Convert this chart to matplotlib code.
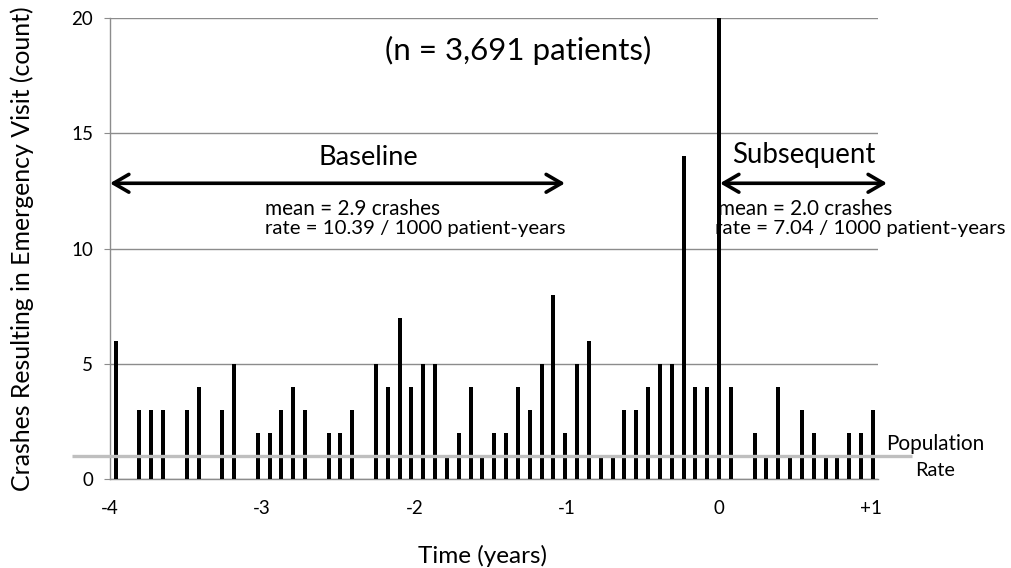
import matplotlib
matplotlib.use("Agg")
import matplotlib.pyplot as plt

# ---------------- data ----------------
crash_counts = [6, 0, 3, 3, 3, 0, 3, 4, 0, 3, 5, 0, 2, 2, 3, 4, 3, 0, 2, 2,
                3, 0, 5, 4, 7, 4, 5, 5, 1, 2, 4, 1, 2, 2, 4, 3, 5, 8, 2, 5,
                6, 1, 1, 3, 3, 4, 5, 5, 14, 4, 4, 20, 4, 0, 2, 1, 4, 1, 3, 2,
                1, 1, 2, 2, 3]
first_bin_center = -3.9625      # years
bin_step = 0.07773              # years (4-week bins)
x_ticks = [-4, -3, -2, -1, 0, 1]
x_tick_labels = ["-4", "-3", "-2", "-1", "0", "+1"]
y_ticks = [0, 5, 10, 15, 20]
population_rate = 1.0
baseline_span = (-4.0, -1.0105)
subsequent_span = (0.008, 1.105)
arrow_level = 12.83

plt.rcParams['font.family'] = ['Lato', 'DejaVu Sans']

W, H = 1011, 568
fig = plt.figure(figsize=(W / 100, H / 100), dpi=100)
ax = fig.add_axes([110 / W, 89 / H, 768 / W, 461 / H])
px_per_year = 152.2
ax.set_xlim(-4, -4 + 768 / px_per_year)
ax.set_ylim(0, 20)

def P(x, y):
    return (x / W, 1 - y / H)

grey = '#8c8c8c'
xs = [first_bin_center + bin_step * i for i in range(len(crash_counts))]
ax.bar(xs, crash_counts, width=4 / px_per_year, color='black', zorder=3)

ax.set_yticks(y_ticks)
ax.set_xticks(x_ticks)
ax.set_xticklabels(x_tick_labels)
ax.yaxis.grid(True, color=grey, lw=1.0, zorder=0)
ax.set_axisbelow(True)
for s in ['top', 'right']:
    ax.spines[s].set_visible(False)
for s in ['left', 'bottom']:
    ax.spines[s].set_color(grey)
    ax.spines[s].set_linewidth(1.0)
ax.tick_params(axis='y', length=4, color=grey, pad=8, labelsize=12, labelcolor='black')
ax.tick_params(axis='x', length=0, pad=15, labelsize=12, labelcolor='black')

# population rate line
ax.plot([-4 + (72 - 110) / px_per_year, -4 + (912 - 110) / px_per_year],
        [population_rate, population_rate], color='#bfbfbf', lw=2.4,
        clip_on=False, zorder=4, solid_capstyle='butt')

# arrows
for span in (baseline_span, subsequent_span):
    ax.annotate('', xy=(span[1], arrow_level), xytext=(span[0], arrow_level),
                arrowprops=dict(arrowstyle='<->,head_length=0.55,head_width=0.32',
                                lw=2.6, color='black', shrinkA=0, shrinkB=0,
                                mutation_scale=20),
                annotation_clip=False, zorder=5)

texts = []
def T(s, x, y, target_w, ha='left', va='baseline', rot=0, size=14):
    t = fig.text(*P(x, y), s, ha=ha, va=va, rotation=rot, fontsize=size,
                 color='black', zorder=1)
    texts.append((t, target_w, rot))
    return t

T("(n = 3,691 patients)", 518.5, 60, 267, ha='center', size=20)
T("Baseline", 368, 165, 100, ha='center', size=17)
T("Subsequent", 803.5, 163.5, 143, ha='center', size=17)
T("mean = 2.9 crashes", 265, 215, 175, size=13)
T("rate = 10.39 / 1000 patient-years", 265, 234, 300, size=13)
T("mean = 2.0 crashes", 718, 215, 174, size=13)
T("rate = 7.04 / 1000 patient-years", 715, 234, 290, size=13)
T("Population", 886, 450.5, 98, size=13)
T("Rate", 935, 476, 40, ha='center', size=13)
T("Time (years)", 482.5, 563, 129, ha='center', size=15)
T("Crashes Resulting in Emergency Visit (count)", 22, 248.5, 487,
  ha='center', va='center', rot=90, size=16)

fig.canvas.draw()
r = fig.canvas.get_renderer()
for t, tw, rot in texts:
    bb = t.get_window_extent(r)
    w = bb.height if rot else bb.width
    t.set_fontsize(t.get_fontsize() * tw / w)

# fit tick label size to "20" width ~21.7 px
fig.canvas.draw()
lab = [l for l in ax.get_yticklabels() if l.get_text() == '20']
if lab:
    w = lab[0].get_window_extent(r).width
    if w > 0:
        sz = 12 * 21.7 / w
        ax.tick_params(axis='both', labelsize=sz)

fig.savefig('out.png', dpi=100, facecolor='white')
